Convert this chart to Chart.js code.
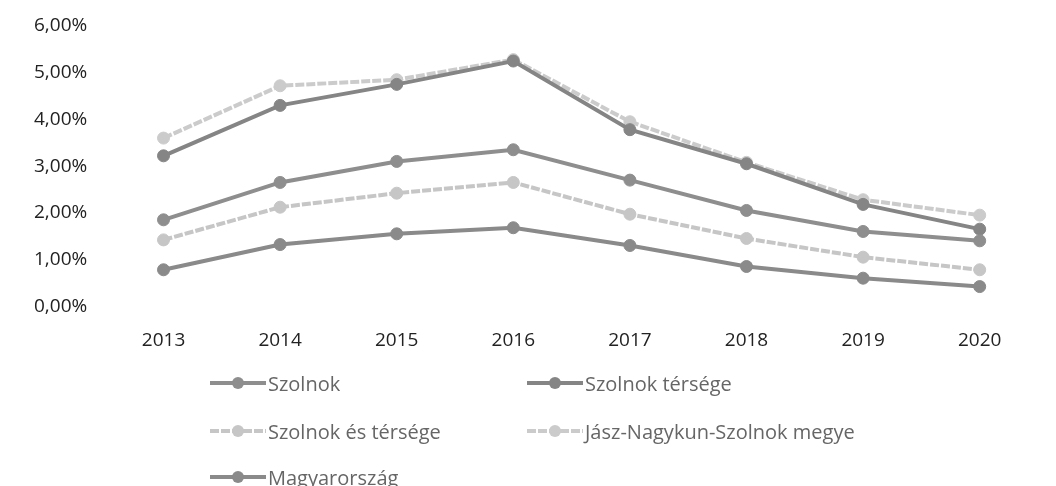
<!DOCTYPE html>
<html>
<head>
<meta charset="utf-8">
<script src="https://cdn.jsdelivr.net/npm/chart.js@4/dist/chart.umd.min.js"></script>
<style>
  html, body { margin: 0; padding: 0; background: #fff; }
  #wrap { position: relative; width: 1056px; height: 486px; }
  #legend { position: absolute; left: 0; top: 0; width: 1056px; height: 486px; pointer-events: none; }
  .item { position: absolute; display: flex; align-items: center; font-family: "Open Sans", sans-serif; font-size: 20px; color: #666; white-space: nowrap; }
  .item canvas { margin-right: 2px; }
</style>
</head>
<body>
<div id="wrap">
  <canvas id="grafico" width="1056" height="486"></canvas>
  <div id="legend"></div>
</div>
<script>
const anos = ["2013", "2014", "2015", "2016", "2017", "2018", "2019", "2020"];

const szolnok = [1.85, 2.65, 3.10, 3.35, 2.70, 2.05, 1.60, 1.40];
const szolnokTersege = [3.22, 4.30, 4.75, 5.25, 3.78, 3.05, 2.18, 1.65];
const szolnokEsTersege = [1.42, 2.12, 2.42, 2.65, 1.97, 1.45, 1.05, 0.78];
const megye = [3.60, 4.72, 4.85, 5.28, 3.95, 3.08, 2.28, 1.95];
const magyarorszag = [0.78, 1.32, 1.55, 1.68, 1.30, 0.85, 0.60, 0.42];

const sotet = "#8e8e8e";
const vilagos = "#c6c6c6";

function serie(nome, dados, cor, tracejado) {
  return {
    label: nome,
    data: dados,
    borderColor: cor,
    backgroundColor: cor,
    borderWidth: 4,
    borderDash: tracejado ? [9, 2] : [],
    pointRadius: 6,
    pointHoverRadius: 6,
    pointBorderWidth: 1,
    pointBorderColor: cor,
    pointBackgroundColor: cor,
    tension: 0,
  };
}

const ctx = document.getElementById("grafico");

const chart = new Chart(ctx, {
  type: "line",
  data: {
    labels: anos,
    datasets: [
      serie("Szolnok", szolnok, sotet, false),
      serie("Szolnok térsége", szolnokTersege, "#858585", false),
      serie("Szolnok és térsége", szolnokEsTersege, vilagos, true),
      serie("Jász-Nagykun-Szolnok megye", megye, "#cbcbcb", true),
      serie("Magyarország", magyarorszag, "#8a8a8a", false),
    ],
  },
  options: {
    responsive: false,
    animation: false,
    layout: {
      padding: { left: 24, right: 18, top: 26, bottom: 119 },
    },
    scales: {
      x: {
        offset: true,
        grid: { display: false },
        border: { display: false },
        ticks: {
          color: "#222",
          padding: 15,
          font: { family: "Open Sans", size: 19 },
        },
      },
      y: {
        min: 0,
        max: 6,
        grid: { display: false },
        border: { display: false },
        ticks: {
          stepSize: 1,
          color: "#222",
          padding: 10,
          font: { family: "Open Sans", size: 19 },
          callback: (v) => v.toFixed(2).replace(".", ",") + "%",
        },
      },
    },
    plugins: {
      legend: { display: false },
      tooltip: { enabled: false },
    },
  },
});

// legenda em duas colunas, como no original
const posicoes = [
  [210, 383], [527, 383],
  [210, 431], [527, 431],
  [210, 477],
];

const legenda = document.getElementById("legend");
chart.data.datasets.forEach((ds, i) => {
  const item = document.createElement("div");
  item.className = "item";
  item.style.left = posicoes[i][0] + "px";
  item.style.top = (posicoes[i][1] - 14) + "px";

  const icone = document.createElement("canvas");
  icone.width = 56;
  icone.height = 28;
  const g = icone.getContext("2d");
  g.strokeStyle = ds.borderColor;
  g.lineWidth = 4;
  g.setLineDash(ds.borderDash);
  g.beginPath();
  g.moveTo(0, 14);
  g.lineTo(56, 14);
  g.stroke();
  g.fillStyle = ds.pointBackgroundColor;
  g.beginPath();
  g.arc(28, 14, 6, 0, Math.PI * 2);
  g.fill();

  const texto = document.createElement("span");
  texto.textContent = ds.label;

  item.appendChild(icone);
  item.appendChild(texto);
  legenda.appendChild(item);
});
</script>
</body>
</html>
